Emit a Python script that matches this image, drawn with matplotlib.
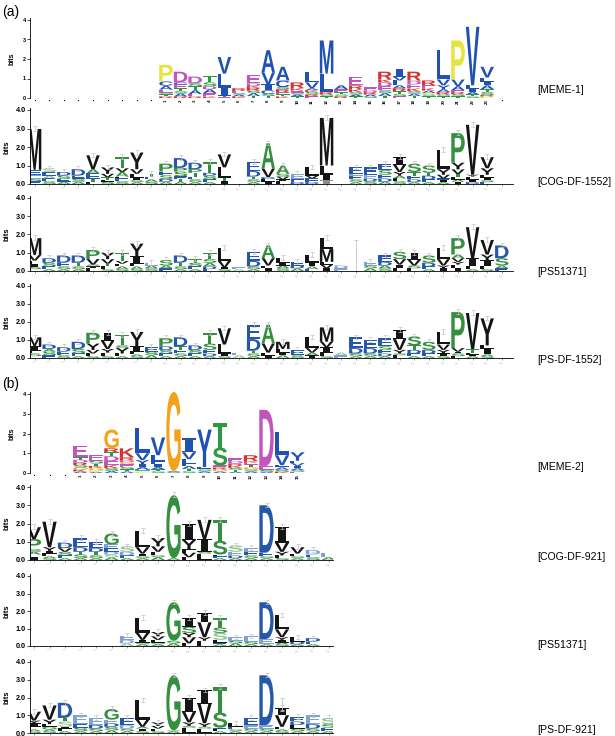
import numpy as np
import matplotlib
matplotlib.use("Agg")
import matplotlib.pyplot as plt
from matplotlib.textpath import TextPath
from matplotlib.patches import PathPatch
from matplotlib.font_manager import FontProperties
from matplotlib.transforms import Affine2D

plt.rcParams['font.family'] = ['Liberation Sans', 'DejaVu Sans']

# ---- data: one string per column, letters listed bottom -> top as <letter><bits>
# lowercase letter = lighter shade of the same colour (HMM logos)

meme1_cols = [
    "R.08 T.1 S.1 E.15 A.2 C.22 P.85",
    "R.08 A.15 S.12 T.15 E.2 C.1 D.55",
    "R.08 E.12 A.2 T.2 S.15 D.35",
    "K.08 E.17 A.2 D.15 S.2 T.35",
    "E.05 T.05 I.45 L.7 V.85",
    "K.08 A.1 S.08 E.1 R.14",
    "T.1 A.15 S.12 R.15 K.1 D.13 E.45",
    "T.1 S.1 C.2 I.3 V.6 A1.15",
    "K.08 T.1 E.12 R.15 S.1 C.35 A.7",
    "T.08 A.1 S.1 E.1 K.12 R.3",
    "E.08 R.1 S.12 K.1 A.1 V.3 L.55",
    "T.08 S.1 R.12 L.95 M1.7",
    "R.08 S.1 T.12 E.15 A.2",
    "T.08 A.1 S.12 K.15 R.2 E.45",
    "S.08 A.1 R.12 D.1 E.15",
    "T.1 A.15 S.15 E.2 D.2 K.15 R.4",
    "E.08 S.12 T.15 R.15 A.15 L.25 V.2 I.4",
    "T.1 A.12 S.12 K.15 E.2 D.2 R.46",
    "T.08 S.1 P.08 A.12 K.12 E.15 R.25",
    "T.08 S.1 R.12 A.15 Y.2 V.3 L1.5",
    "T.08 S.12 R.1 E.1 A.2 V.35 P2.0",
    "S.08 T.1 A.12 I.2 L.15 V3.0",
    "P.08 R.07 S.15 T.15 A.2 I.2 L.2 V.55",
]

cog1552_cols = [
    "E.15 S.12 e.2 E.3 M2.2", "S.15 E.15 a.15 E.2 s.2", "A.12 E.15 S.18 D.2",
    "A.12 S.15 E.18 D.35", "L.12 T.15 E.3 A.23 V.75", "S.12 L.1 T.15 V.18 Y.35",
    "S.15 E.15 L.1 A.25 V.2 T.6", "A.1 S.1 I.15 L.2 V.25 Y.9", "S.12 A.13 E.15 T.15",
    "A.12 D.15 S.2 E.2 P.43", "A.12 T.15 E.15 S.25 P.2 D.53", "A.1 S.15 E.15 T.2 P.2 D.35",
    "A.1 E.15 S.2 D.15 T.6", "I.15 T.2 L.55 V.7", "",
    "A.1 S.15 T.15 D.3 E.5", "I.12 L.15 D.1 V.45 A1.38", "L.15 I.1 V.15 S.15 A.45",
    "D.1 E.15 e.3", "D.1 E.2 V.15 L.45", "i.2 I.3 L.5 M2.57",
    "", "A.1 S.15 E.2 e.1 E.35", "S.15 D.15 e.2 E.4",
    "A.12 D.18 E.2 S.25 E.35", "S.15 L.15 A.15 Y.2 V.4 I.4", "A.1 D.15 E.2 T.2 S.45",
    "A.1 E.15 D.2 T.15 S.4", "A.1 I.1 E.1 V.2 Y.3 L1.05", "I.12 A.12 L.15 T.15 V.25 Y.36 P1.6",
    "D.1 I.15 L.15 Y.1 V2.7", "E.1 S.1 I.15 L.15 Y.35 V.6", "",
]

ps51371a_cols = [
    "E.1 S.12 I.15 L.2 V.3 M.93", "A.1 E.15 S.2 D.25", "A.1 S.15 E.2 D.4",
    "A.1 S.15 T.2 D.4", "L.15 I.1 S.1 V.3 P.5", "S.1 L.15 T.15 V.25 Y.35",
    "S.1 A.15 L.15 V.15 T.45", "S.1 A.15 L.15 I.4 Y.7", "S.15 A.15 e.15",
    "E.15 A.15 S.3", "A.1 S.15 T.2 D.4", "A.1 E.15 S.2 T.2",
    "E.1 D.15 A.2 S.2 T.35", "S.1 I.1 V.35 L.7", "a.1 e.1",
    "A.1 S.15 D.3 E.5", "I.15 L.15 V.4 A.7", "S.15 A.15 I.15 L.25",
    "A.15 D.15 E.2", "E.1 A.15 I.2 L.45", "I.15 V.2 L.15 M.7 L.6",
    "e.15 d.15", "", "A.15 S.15 e.2",
    "S.15 A.15 D.2 E.35", "L.15 I.2 V.3 S.4", "L.15 S.15 V.3 I.4",
    "A.1 E.15 D.2 S.4", "I.15 Y.15 V.35 L.6", "I.15 L.2 Y.15 V.2 A.2 P.9",
    "A.1 L.15 I.45 V1.7", "S.1 L.15 I.35 Y.3 V.8", "E.15 A.15 S.4 D.7",
]

psdf1552_cols = [
    "E.1 S.15 L.15 I.25 M.5", "E.15 S.2 A.15 D.25", "S.15 E.2 D.25",
    "A.1 E.15 S.25 D.4", "S.1 L.15 V.2 Y.35 P.6", "S.1 L.2 Y.2 V.45 I.45",
    "A.1 L.15 Y.3 S.15 T.6", "S.1 A.1 L.15 I.3 Y.8", "A.15 S.2 E.25",
    "A.1 E.15 S.2 D.2 P.45", "A.1 S.15 E.2 T.2 D.5", "A.1 E.15 S.2 D.25",
    "A.1 D.15 E.2 S.35 T.6", "S.1 I.15 L.5 V.9", "a.15 e.15",
    "A.1 S.15 T.15 D.65 E.8", "I.15 L.15 V.5 A1.05", "A.15 I.15 L.2 M.4",
    "S.15 E.3", "I.15 A.15 V.25 L.6", "S.1 L.2 I.3 V.3 M.8",
    "e.15 a.15", "A.1 S.15 D.3 E.6", "A.1 S.15 D.3 E.45",
    "A.1 D.15 E.2 S.2 E.45", "L.15 S.1 Y.2 V.6 I.5", "A.1 E.15 D.2 T.25 S.5",
    "A.1 E.15 D.2 S.45", "S.1 I.15 Y.2 V.3 L.7", "L.1 S.15 I.1 V.2 P2.0",
    "A.1 I.1 L.1 T.2 V2.0", "S.1 A.1 I.35 L.15 Y1.5", "",
]

meme2_cols = [
    "A.08 K.1 G.1 S.12 R.12 D.15 T.12 E.6",
    "A.06 P.08 G.12 K.1 T.12 S.15 E.27",
    "A.1 S.15 K.15 E.2 D.25 T.2 R.2 G.95",
    "A.08 T.1 S.12 E.15 G.1 D.1 R.15 K.45",
    "P.08 H.1 A.12 I.15 Y.2 V.35 L1.3",
    "S.08 T.1 A.12 I.15 F.15 L.3 V.9",
    "S.05 A.05 G4.0",
    "S.08 T.12 A.15 F.1 L.25 V.35 I.7",
    "A.08 S.1 F.12 Y1.9",
    "A.08 G.1 R.1 E.1 S.9 T1.27",
    "A.06 T.1 S.1 K.1 R.12 D.12 E.15",
    "A.08 S.1 G.12 T.12 E.1 K.08 R.3",
    "A.06 S.1 E.2 D2.84",
    "K.06 S.1 A.12 F.12 V.5 L1.2",
    "E.06 S.08 A.1 I.12 V.14 L.12 Y.43",
]

cog921_cols = [
    "I.15 L.15 A.15 S.15 P.55 V.65", "S.1 A.1 L.15 I.15 Y.2 V1.4", "A.1 E.15 S.2 V.2 D.3",
    "A.1 S.2 T.15 D.25 E.5", "A.1 S.15 T.2 D.2 E.35", "A.15 s.15 d.15 E.2 e.2 G.6",
    "A.1 E.15 d.2 s.3", "A.1 S.1 I.15 V.35 L.9", "A.15 S.1 L.2 V.3 Y.45",
    "A.1 G3.45", "L.15 V.25 F.2 Y.5 I.9", "L.35 S.1 I.7 V1.05",
    "A.1 E.1 L.1 S.75 T1.15", "A.1 D.15 e.2 s.35", "A.1 S.15 E.2 e.2",
    "A.1 S.1 E.2 D2.6", "S.1 L.15 Y.2 V.5 I.85", "A.1 S.1 L.15 V.35",
    "S.15 E.15 d.25", "A.15 e.25",
]

ps51371b_cols = [
    "", "", "", "", "", "",
    "a.15 d.2 e.25", "A.1 S.1 I.15 V.4 L.85", "A.1 S.1 L.15 V.2 Y.25",
    "A.15 S.15 G2.2", "L.15 V.35 Y.25 S.35 I.5", "L.15 F.15 Y.2 V.85 I.55",
    "A.1 E.1 L.15 s.4 S.3 T.55", "A.15 S.15 e.2", "A.1 S.15 e.3",
    "A.1 e.3 D2.1", "S.1 A.1 I.15 Y.15 V.45 L.8", "A.1 D.15 L.25",
    "A.1 E.15 D.2", "",
]

psdf921_cols = [
    "S.1 A.1 L.15 I.2 Y.15 V.5", "S.1 A.1 G.15 L.15 Y.25 V.8", "A.1 L.15 I.1 s.3 T.2 D.85",
    "A.1 S.2 E.2 e.5", "A.1 S.15 D.2 e.4", "A.15 S.2 D.2 e.2 G.6",
    "A.1 S.15 d.2 E.4", "S.1 I.15 A.1 V.4 L1.1", "S.1 L.15 V.15 Y.2",
    "A.1 S.05 G3.1", "L.3 S.1 Y.2 V.6 I.8", "L.25 S.1 Y.2 V1.1 I.75",
    "A.1 L.1 E.1 S.85 T1.45", "A.1 S.1 E.15 L.2", "A.1 S.15 e.2 E.4",
    "A.1 S.15 e.2 D2.8", "S.1 A.1 L.15 V.65 I.4", "A.1 S.15 L.2 D.2 E.25",
    "A.1 S.15 D.25 e.5", "A.1 E.2 S.2 s.35",
]

# uncertainty bars that differ from the usual small one: (column, low, high)
big_err = {
    "PS51371a": [(23, 0.0, 1.7)],
    "PSDF921": [(17, 1.25, 2.0)],
}

# ---- colours
MEME_COLOURS = {}
for aa in "ACFILMVWY":
    MEME_COLOURS[aa] = "#2052b5"
for aa in "NQST":
    MEME_COLOURS[aa] = "#2c9a41"
for aa in "DE":
    MEME_COLOURS[aa] = "#c254be"
for aa in "KR":
    MEME_COLOURS[aa] = "#d8302c"
MEME_COLOURS.update({"G": "#f6a11c", "P": "#e6e540", "H": "#3bb6c8"})

HMM_COLOURS = {}
for aa in "CFILMVWY":
    HMM_COLOURS[aa] = ("#151515", "#8c8c8c")
for aa in "AGPST":
    HMM_COLOURS[aa] = ("#34903f", "#8fc493")
for aa in "DEHKNQR":
    HMM_COLOURS[aa] = ("#2558ab", "#7ea2d8")

FP = FontProperties(family="Liberation Sans", weight="bold")
FP_I = FontProperties(family="DejaVu Serif", weight="bold")
_glyphs = {}


def glyph(ch):
    if ch not in _glyphs:
        p = TextPath((0, 0), ch, size=1, prop=FP_I if ch == "I" else FP)
        _glyphs[ch] = (p, p.get_extents())
    return _glyphs[ch]


def draw_letter(ax, ch, x, y, w, h, colour):
    p, ext = glyph(ch)
    tr = (Affine2D().translate(-ext.x0, -ext.y0)
          .scale(w / ext.width, h / ext.height).translate(x - w / 2, y))
    ax.add_patch(PathPatch(tr.transform_path(p), facecolor=colour,
                           edgecolor="none", lw=0))


def parse(col):
    return [(t[0], float(t[1:])) for t in col.split()]


W, H = 615, 736
fig = plt.figure(figsize=(W / 100, H / 100), dpi=100)
fig.patch.set_facecolor("white")


def make_axes(y0, ppb, xl, xr, lo, hi):
    ymin, ymax = -0.3, 4.5
    bot = y0 - ymin * ppb
    top = y0 - ymax * ppb
    ax = fig.add_axes([xl / W, 1 - bot / H, (xr - xl) / W, (bot - top) / H])
    ax.set_xlim(lo, hi)
    ax.set_ylim(ymin, ymax)
    ax.patch.set_alpha(0)
    for s in ("top", "right"):
        ax.spines[s].set_visible(False)
    ax.spines["left"].set_bounds(0, 4.1)
    ax.spines["left"].set_linewidth(0.6)
    ax.set_yticks([0, 1, 2, 3, 4])
    ax.tick_params(axis="y", length=2, width=0.5, pad=1)
    return ax


def meme_panel(cols, offset, ndots_after, y0, ppb, lo, hi, xr):
    ax = make_axes(y0, ppb, 30, xr, lo, hi)
    ax.spines["bottom"].set_visible(False)
    ax.set_xticks([])
    ax.set_yticklabels(["0", "1", "2", "3", "4"], fontsize=4, fontweight="bold")
    for i, col in enumerate(cols):
        x = offset + i + 1
        y = 0
        for ch, h in parse(col):
            draw_letter(ax, ch, x, y, 0.93, h, MEME_COLOURS[ch])
            y += h
        ax.text(x, -0.06, str(i + 1), rotation=90, fontsize=3.2,
                fontweight="bold", ha="center", va="top")
    dots = list(range(1, offset + 1)) + \
        list(range(offset + len(cols) + 1, offset + len(cols) + 1 + ndots_after))
    ax.plot(dots, [-0.12] * len(dots), ls="none", marker="o", ms=0.9,
            color="black", mew=0)
    fig.text(12 / W, 1 - (y0 - 2 * ppb) / H, "bits", rotation=90, fontsize=5,
             fontweight="bold", ha="center", va="center")
    return ax


def hmm_panel(cols, name, y0, ppb, lo, hi, xr, numbers=True):
    ax = make_axes(y0, ppb, 30, xr, lo, hi)
    ax.spines["bottom"].set_position(("data", 0))
    ax.spines["bottom"].set_linewidth(0.6)
    ax.set_yticklabels(["0.0", "1.0", "2.0", "3.0", "4.0"], fontsize=5.2,
                       fontweight="bold")
    n = len(cols)
    ax.set_xticks(np.arange(1, n + 1))
    ax.set_xticklabels([])
    ax.tick_params(axis="x", length=1.5, width=0.4, color="#555555")
    if numbers:
        for i in range(n):
            ax.text(i + 1, -0.12, str(i + 1), rotation=90, fontsize=2.5,
                    color="#c8c8c8", ha="center", va="top")
    for i, col in enumerate(cols):
        x = i + 1
        y = 0
        for ch, h in parse(col):
            dark, light = HMM_COLOURS[ch.upper()]
            draw_letter(ax, ch.upper(), x, y, 0.92, h,
                        light if ch.islower() else dark)
            y += h
        if y > 0.4:
            ax.errorbar(x, y + 0.02, yerr=0.13, color="#c4c4c4", lw=0.5,
                        capsize=1.2, capthick=0.5)
    for c, a, b in big_err.get(name, []):
        ax.errorbar(c, (a + b) / 2, yerr=(b - a) / 2, color="#c4c4c4", lw=0.6,
                    capsize=1.4, capthick=0.6)
    fig.text(7 / W, 1 - (y0 - 2 * ppb) / H, "bits", rotation=90, fontsize=5.5,
             fontweight="bold", ha="center", va="center")
    return ax


# (a) panels: 33 columns, col 1 at x=34.6 px, 14.6 px apart
lo_a, hi_a = 1 - 4.6 / 14.6, 1 + (513 - 34.6) / 14.6
# (b) panels: 20 columns, col 1 at x=34 px, 15.5 px apart
lo_b, hi_b = 1 - 4.0 / 15.5, 1 + (333 - 34) / 15.5

meme_panel(meme1_cols, 9, 1, 98, 19.5, lo_a, hi_a, 513)
hmm_panel(cog1552_cols, "COG1552", 184, 18.5, lo_a, hi_a, 513)
hmm_panel(ps51371a_cols, "PS51371a", 271, 18.25, lo_a, hi_a, 513)
hmm_panel(psdf1552_cols, "PSDF1552", 358, 18.0, lo_a, hi_a, 513)
meme_panel(meme2_cols, 3, 0, 473, 19.75, lo_b, hi_b, 333)
hmm_panel(cog921_cols, "COG921", 560, 18.25, lo_b, hi_b, 333)
hmm_panel(ps51371b_cols, "PS51371b", 646, 17.5, lo_b, hi_b, 333)
hmm_panel(psdf921_cols, "PSDF921", 733, 17.75, lo_b, hi_b, 333, numbers=False)

labels = ["[MEME-1]", "[COG-DF-1552]", "[PS51371]", "[PS-DF-1552]",
          "[MEME-2]", "[COG-DF-921]", "[PS51371]", "[PS-DF-921]"]
label_y = [90, 182, 272, 360, 467, 557, 645, 730]
for t, y in zip(labels, label_y):
    fig.text(537 / W, 1 - y / H, t, fontsize=7.6, ha="left", va="center")

fig.text(2 / W, 1 - 12 / H, "(a)", fontsize=10, ha="left", va="center")
fig.text(2 / W, 1 - 384 / H, "(b)", fontsize=10, ha="left", va="center")

fig.savefig("out.png", dpi=100)
